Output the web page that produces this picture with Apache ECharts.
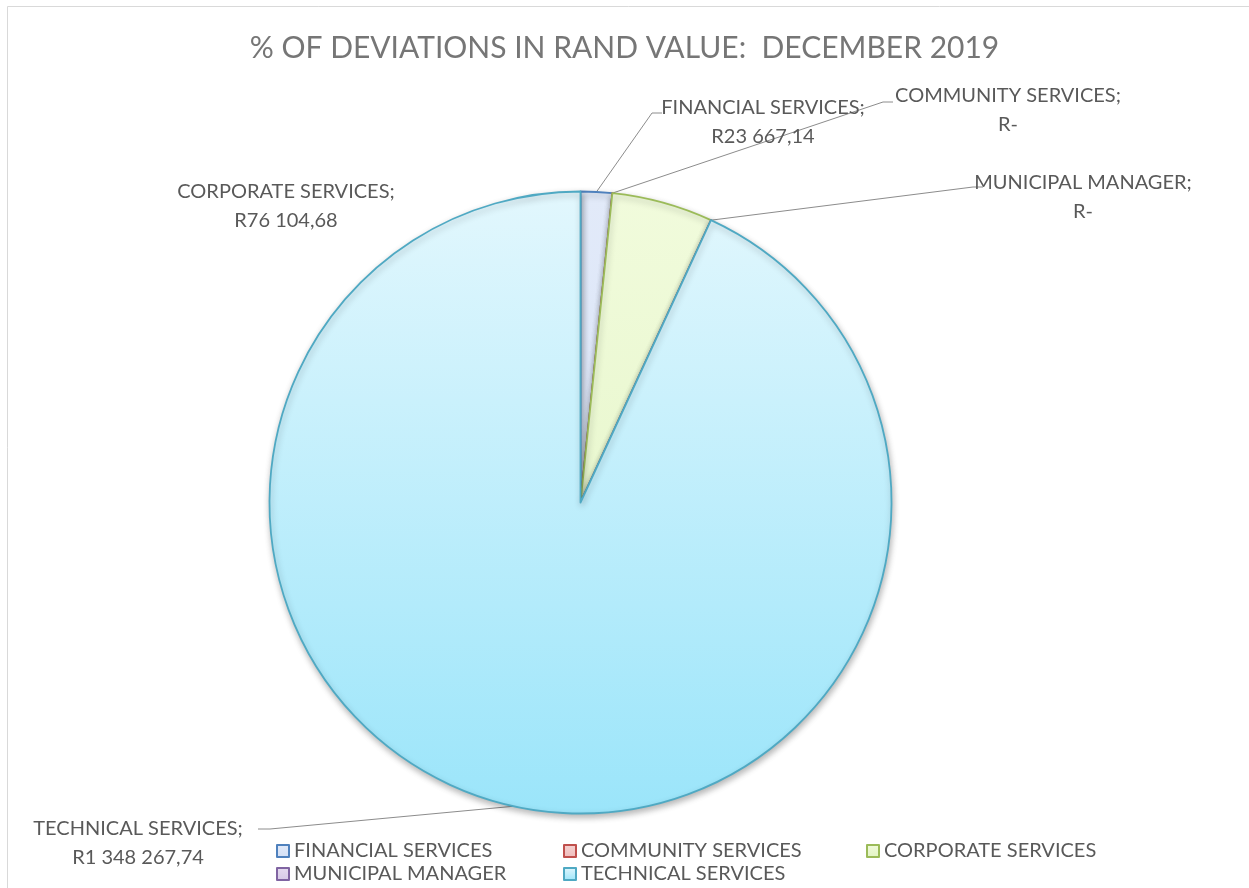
<!DOCTYPE html>
<html>
<head>
<meta charset="utf-8">
<script src="https://cdn.jsdelivr.net/npm/echarts@6/dist/echarts.min.js"></script>
<style>
  html, body { margin: 0; padding: 0; background: #fff; }
  #chart { width: 1249px; height: 888px; }
</style>
</head>
<body>
<div id="chart"></div>
<script>
// Deviations per department, December 2019 (Rand)
const departments = ['FINANCIAL SERVICES', 'COMMUNITY SERVICES', 'CORPORATE SERVICES', 'MUNICIPAL MANAGER', 'TECHNICAL SERVICES'];
const randValues = [23667.14, 0, 76104.68, 0, 1348267.74];
const chartTitle = '% OF DEVIATIONS IN RAND VALUE:  DECEMBER 2019';

// Slice styling: fill top/bottom and outline per department
const sliceStyles = [
  { top: '#e2eaf9', bottom: '#d3dff5', border: '#4f81bd' },
  { top: '#f6d3d2', bottom: '#efbcbb', border: '#c0504d' },
  { top: '#f1fbdc', bottom: '#e1f4c2', border: '#9bbb59' },
  { top: '#e6dcf0', bottom: '#d6c8e6', border: '#8064a2' },
  { top: '#e2f7fd', bottom: '#9be5fa', border: '#4fa9c3' }
];

// Where each data label sits and how its leader line bends
const labelPlacement = [
  { x: 763, y: 122, line: [[652, 113], [662, 113]] },
  { x: 1008, y: 110, line: [[883, 102], [893, 102]] },
  { x: 286, y: 206, line: null },
  { x: 1083, y: 197, line: [[973, 187], [983, 187]] },
  { x: 138, y: 843, line: [[270, 829], [258, 829]] }
];

const FONT = 'Lato, "Open Sans", sans-serif';

function formatRand(v) {
  if (!v) return 'R-';
  const parts = v.toFixed(2).split('.');
  const intPart = parts[0].replace(/\B(?=(\d{3})+(?!\d))/g, ' ');
  return 'R' + intPart + ',' + parts[1];
}

function fillFor(s) {
  return new echarts.graphic.LinearGradient(0, 192, 0, 813, [
    { offset: 0, color: s.top },
    { offset: 1, color: s.bottom }
  ], true);
}

const pieData = departments.map((name, i) => ({
  name: name,
  value: randValues[i],
  itemStyle: {
    color: fillFor(sliceStyles[i]),
    borderColor: sliceStyles[i].border
  },
  labelLine: { show: labelPlacement[i].line !== null }
}));

function legendData(indices) {
  return indices.map(i => ({
    name: departments[i],
    itemStyle: {
      color: new echarts.graphic.LinearGradient(0, 0, 0, 1, [
        { offset: 0, color: sliceStyles[i].top },
        { offset: 1, color: sliceStyles[i].bottom }
      ]),
      borderColor: sliceStyles[i].border,
      borderWidth: 2
    }
  }));
}

const legendCommon = {
  orient: 'vertical',
  top: 841,
  padding: 0,
  height: 47,
  icon: 'rect',
  itemWidth: 12,
  itemHeight: 12,
  itemGap: 3,
  selectedMode: false,
  textStyle: { fontFamily: FONT, fontSize: 20, color: '#595959', padding: [0, 0, 0, 0] }
};

const chart = echarts.init(document.getElementById('chart'), null, { renderer: 'canvas' });

chart.setOption({
  backgroundColor: '#ffffff',
  animation: false,
  title: {
    text: chartTitle,
    left: 'center',
    top: 28,
    textStyle: { fontFamily: FONT, fontSize: 30, fontWeight: 'normal', color: '#767676' }
  },
  graphic: [{
    type: 'rect',
    shape: { x: 7.5, y: 6.5, width: 1300, height: 1000 },
    style: { fill: 'none', stroke: '#d9d9d9', lineWidth: 1 },
    silent: true
  }],
  legend: [
    Object.assign({}, legendCommon, { left: 276, data: legendData([0, 3]) }),
    Object.assign({}, legendCommon, { left: 563, data: legendData([1, 4]) }),
    Object.assign({}, legendCommon, { left: 866, data: legendData([2]) })
  ],
  series: [{
    type: 'pie',
    center: [580.5, 502.5],
    radius: 311,
    startAngle: 90,
    clockwise: true,
    avoidLabelOverlap: false,
    minShowLabelAngle: 0,
    itemStyle: {
      borderWidth: 1.8,
      shadowBlur: 6,
      shadowOffsetX: 1,
      shadowOffsetY: 3,
      shadowColor: 'rgba(0,0,0,0.28)'
    },
    label: {
      show: true,
      position: 'outside',
      fontFamily: FONT,
      fontSize: 20,
      lineHeight: 29,
      color: '#595959',
      align: 'center',
      formatter: p => p.name + ';\n' + formatRand(p.value)
    },
    labelLine: {
      show: true,
      length: 20,
      length2: 10,
      lineStyle: { color: '#8c8c8c', width: 1 }
    },
    labelLayout: function (params) {
      const place = labelPlacement[params.dataIndex];
      const out = { x: place.x, y: place.y, align: 'center', verticalAlign: 'middle' };
      if (place.line && params.labelLinePoints) {
        out.labelLinePoints = [params.labelLinePoints[0]].concat(place.line);
      }
      return out;
    },
    emphasis: { disabled: true },
    data: pieData
  }]
});
</script>
</body>
</html>
